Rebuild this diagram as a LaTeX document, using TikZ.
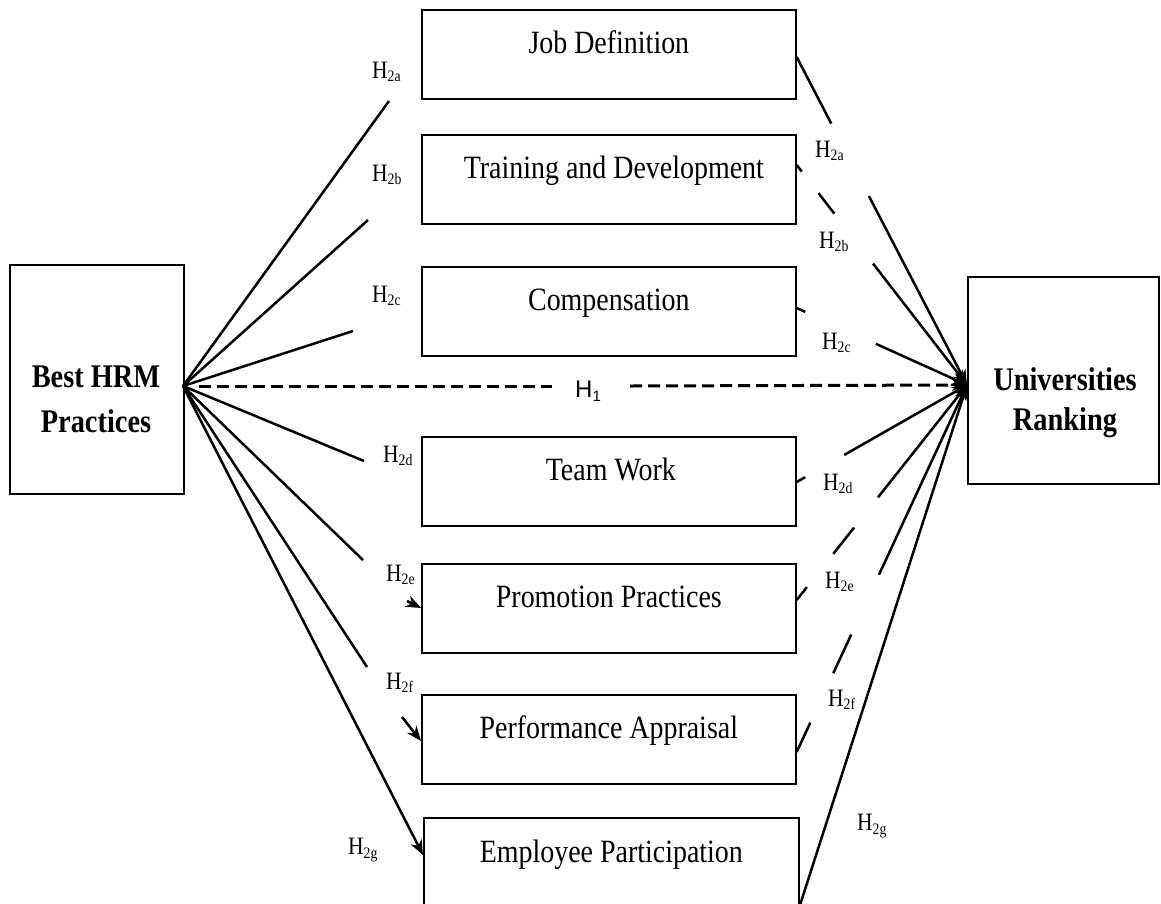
\documentclass[tikz,border=0pt]{standalone}
\usepackage{fontspec}
\setmainfont{Liberation Serif}
\newfontfamily\boxfont[FakeStretch=0.86]{Liberation Serif}
\newfontfamily\hfont{Liberation Sans}
\usetikzlibrary{arrows.meta,calc}

% hypothesis label H_{2x}
\newcommand{\hyp}[1]{{\boxfont\fontsize{25}{25}\selectfont H\raisebox{-3.5pt}{\fontsize{16}{16}\selectfont #1}}}

\begin{document}
\begin{tikzpicture}[x=1pt,y=-1pt,
  box/.style={draw, line width=1.7pt, inner sep=0pt, anchor=north west},
  boxtext/.style={anchor=base, inner sep=0pt, font=\boxfont\fontsize{32.5}{36}\selectfont},
  bigtext/.style={anchor=base, inner sep=0pt, font=\boxfont\bfseries\fontsize{33}{36}\selectfont},
  hlab/.style={anchor=west, inner sep=0pt},
  link/.style={line width=2.5pt},
  tip/.style={-{Stealth[length=15pt,width=12pt]}},
  h1line/.style={line width=3pt, dash pattern=on 12pt off 6pt}]

\useasboundingbox (0,0) rectangle (1161,903);
\fill[white] (0,0) rectangle (1161,903);
\clip (0,0) rectangle (1161,903);

% outer constructs
\node[box, minimum width=174pt, minimum height=229pt] (hrm) at (9,264) {};
\node[bigtext] (hrmA) at (96,387) {Best HRM};
\node[bigtext] (hrmB) at (96,432) {Practices};

\node[box, minimum width=191pt, minimum height=207pt] (rank) at (967,276) {};
\node[bigtext] (rankA) at (1065,390) {Universities};
\node[bigtext] (rankB) at (1065,430) {Ranking};

% mediating practices
\node[box, minimum width=374pt, minimum height=89pt] (job)  at (421,9)   {};
\node[box, minimum width=374pt, minimum height=89pt] (trd)  at (421,134) {};
\node[box, minimum width=374pt, minimum height=89pt] (comp) at (421,266) {};
\node[box, minimum width=374pt, minimum height=89pt] (team) at (421,436) {};
\node[box, minimum width=374pt, minimum height=89pt] (prom) at (421,563) {};
\node[box, minimum width=374pt, minimum height=89pt] (perf) at (421,694) {};
\node[box, minimum width=375pt, minimum height=89pt] (emp)  at (423,817) {};

\node[boxtext] (jobT)  at ($(job.north)+(0,44)$)  {Job Definition};
\node[boxtext] (trdT)  at ($(trd.north)+(5,44)$)  {Training and Development};
\node[boxtext] (compT) at ($(comp.north)+(0,44)$) {Compensation};
\node[boxtext] (teamT) at ($(team.north)+(2,44)$) {Team Work};
\node[boxtext] (promT) at ($(prom.north)+(0,44)$) {Promotion Practices};
\node[boxtext] (perfT) at ($(perf.north)+(0,44)$) {Performance Appraisal};
\node[boxtext] (empT)  at ($(emp.north)+(0,45)$)  {Employee Participation};

% focal points
\coordinate (L) at (183,386);
\coordinate (R) at (967,385);

% H1: direct effect
\coordinate (h1a) at (199,386);
\coordinate (h1b) at (552,386);
\coordinate (h1c) at (630,386);
\draw[h1line] (h1a) -- (h1b);
\draw[h1line] (h1c) -- (R);
\draw[link, tip] ($(R)+(-16,0)$) -- (R);
\node[hlab, font=\hfont\fontsize{24}{24}\selectfont] (h1) at (575,391)
  {H\raisebox{-4.5pt}{\fontsize{15}{15}\selectfont 1}};

% left fan
\coordinate (a1) at (389,101);
\coordinate (b1) at (368,220);
\coordinate (c1) at (353,331);
\coordinate (d1) at (364,461);
\coordinate (e1) at (363,560);
\coordinate (f1) at (367,667);
\coordinate (e2) at (407,601);
\coordinate (f2) at (402,717);
\draw[link] (L) -- (a1);
\draw[link] (L) -- (b1);
\draw[link] (L) -- (c1);
\draw[link] (L) -- (d1);
\draw[link] (L) -- (e1);
\draw[link] (L) -- (f1);
\draw[link, tip] (e2) -- ($(prom.north west)+(0,45)$);
\draw[link, tip] (f2) -- ($(perf.north west)+(0,47)$);
\draw[link, tip] (L) -- ($(emp.north west)+(0,38)$);

% right fan, broken around the labels
\coordinate (jA) at ($(job.north east)+(0,48)$);
\coordinate (tA) at ($(trd.north east)+(0,31)$);
\coordinate (cA) at ($(comp.north east)+(0,42)$);
\coordinate (dA) at ($(team.north east)+(0,46)$);
\coordinate (eA) at ($(prom.north east)+(0,37)$);
\coordinate (fA) at ($(perf.north east)+(0,58)$);
\coordinate (gA) at ($(emp.north east)+(0,89)$);

\draw[link] (jA) -- ($(jA)!0.203!(R)$);
\draw[link, tip] ($(jA)!0.424!(R)$) -- (R);

\draw[link] (tA) -- ($(tA)!0.03!(R)$);
\draw[link] ($(tA)!0.128!(R)$) -- ($(tA)!0.221!(R)$);
\draw[link, tip] ($(tA)!0.448!(R)$) -- (R);

\draw[link] (cA) -- ($(cA)!0.05!(R)$);
\draw[link, tip] ($(cA)!0.465!(R)$) -- (R);

\draw[link] (dA) -- ($(dA)!0.05!(R)$);
\draw[link, tip] ($(dA)!0.279!(R)$) -- (R);

\draw[link] (eA) -- ($(eA)!0.06!(R)$);
\draw[link] ($(eA)!0.215!(R)$) -- ($(eA)!0.337!(R)$);
\draw[link, tip] ($(eA)!0.477!(R)$) -- (R);

\draw[link] (fA) -- ($(fA)!0.08!(R)$);
\draw[link] ($(fA)!0.215!(R)$) -- ($(fA)!0.32!(R)$);
\draw[link, tip] ($(fA)!0.483!(R)$) -- (R);

\draw[link, tip] (gA) -- (R);

% hypothesis labels, left side
\node[hlab] (la) at (372,72)  {\hyp{2a}};
\node[hlab] (lb) at (372,175) {\hyp{2b}};
\node[hlab] (lc) at (372,296) {\hyp{2c}};
\node[hlab] (ld) at (383,456) {\hyp{2d}};
\node[hlab] (le) at (386,575) {\hyp{2e}};
\node[hlab] (lf) at (386,683) {\hyp{2f}};
\node[hlab] (lg) at (348,850) {\hyp{2g}};

% hypothesis labels, right side
\node[hlab] (ra) at (815,151) {\hyp{2a}};
\node[hlab] (rb) at (819,242) {\hyp{2b}};
\node[hlab] (rc) at (822,343) {\hyp{2c}};
\node[hlab] (rd) at (823,484) {\hyp{2d}};
\node[hlab] (re) at (825,582) {\hyp{2e}};
\node[hlab] (rf) at (828,700) {\hyp{2f}};
\node[hlab] (rg) at (857,826) {\hyp{2g}};
\end{tikzpicture}
\end{document}
